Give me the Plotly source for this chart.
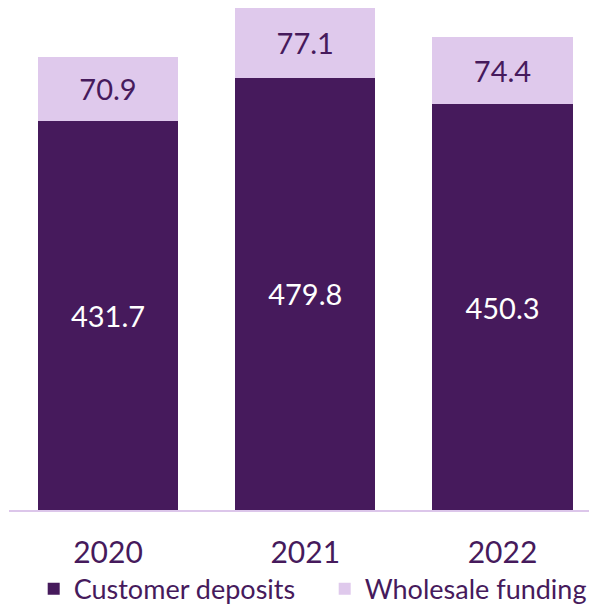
import plotly.graph_objects as go

years = ["2020", "2021", "2022"]
customer_deposits = [431.7, 479.8, 450.3]
wholesale_funding = [70.9, 77.1, 74.4]

dark = "#461a5c"
light = "#dfc9ec"
font_family = "Lato, 'Noto Sans', sans-serif"

fig = go.Figure()
fig.add_trace(
    go.Bar(
        x=years,
        y=customer_deposits,
        name="Customer deposits",
        marker=dict(color=dark, line=dict(width=0)),
        width=0.71,
        text=[f"{v:.1f}" for v in customer_deposits],
        textposition="inside",
        insidetextanchor="middle",
        textfont=dict(color="white", size=29, family=font_family),
        hoverinfo="skip",
    )
)
fig.add_trace(
    go.Bar(
        x=years,
        y=wholesale_funding,
        name="Wholesale funding",
        marker=dict(color=light, line=dict(width=0)),
        width=0.71,
        text=[f"{v:.1f}" for v in wholesale_funding],
        textposition="inside",
        insidetextanchor="middle",
        textfont=dict(color=dark, size=29, family=font_family),
        hoverinfo="skip",
    )
)

# page body keeps its default 8px margin, so the figure is sized to the visible area
fig.update_layout(
    barmode="stack",
    width=589,
    height=597,
    margin=dict(l=1, r=0, t=0, b=95, autoexpand=False),
    paper_bgcolor="white",
    plot_bgcolor="white",
    font=dict(family=font_family, color=dark),
    showlegend=True,
    legend=dict(
        orientation="h",
        x=0.042,
        xanchor="left",
        y=-0.158,
        yanchor="middle",
        font=dict(size=27, color=dark, family=font_family),
        itemwidth=30,
        entrywidth=246,
        tracegroupgap=0,
        traceorder="normal",
    ),
    xaxis=dict(
        range=[-0.502, 2.479],
        showgrid=False,
        showline=True,
        linecolor="#dcc6ea",
        linewidth=2,
        ticks="outside",
        ticklen=15,
        tickcolor="rgba(0,0,0,0)",
        tickfont=dict(size=30, color=dark, family=font_family),
        zeroline=False,
    ),
    yaxis=dict(
        range=[0, 557],
        visible=False,
        showgrid=False,
        zeroline=False,
    ),
)

fig.write_html("out.html")
